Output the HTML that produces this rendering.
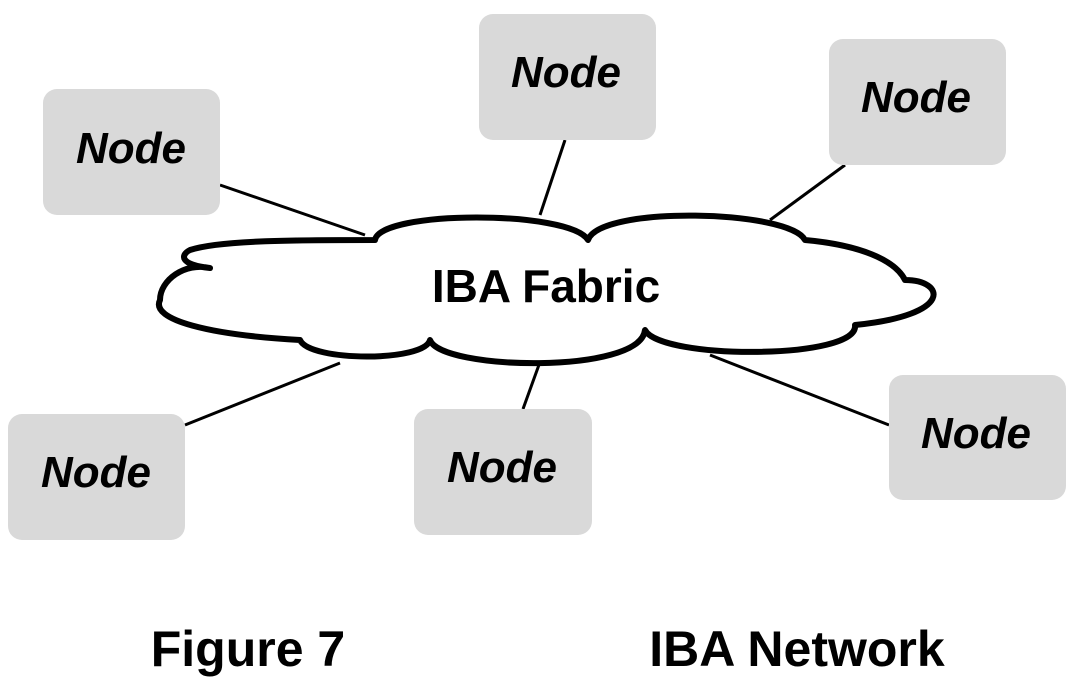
<!DOCTYPE html>
<html><head><style>
body{margin:0;width:1079px;height:679px;background:#fff;overflow:hidden;font-family:"Liberation Sans",Arial,sans-serif}
</style></head><body>
<svg width="1079" height="679" viewBox="0 0 1079 679" xmlns="http://www.w3.org/2000/svg">
<g stroke="#000" stroke-width="3">
<line x1="220" y1="185" x2="365" y2="235"/>
<line x1="565" y1="140" x2="540" y2="215"/>
<line x1="845" y1="165" x2="770" y2="220"/>
<line x1="185" y1="425" x2="340" y2="363"/>
<line x1="540" y1="362" x2="523" y2="409"/>
<line x1="710" y1="355" x2="889" y2="425"/>
</g>
<g fill="#d9d9d9">
<rect x="43" y="89" width="177" height="126" rx="14"/>
<rect x="479" y="14" width="177" height="126" rx="14"/>
<rect x="829" y="39" width="177" height="126" rx="14"/>
<rect x="8" y="414" width="177" height="126" rx="14"/>
<rect x="414" y="409" width="178" height="126" rx="14"/>
<rect x="889" y="375" width="177" height="125" rx="14"/>
</g>
<path d="M375,240 C380,210 570,210 588,240 C600,205 790,210 805,240 C860,245 895,260 905,280 C945,280 955,315 855,325 C860,360 660,360 645,330 C640,375 440,370 430,340 C425,362 310,362 300,340 C210,335 150,320 160,300 C160,280 185,262 210,268 C180,265 180,255 190,250 C220,240 300,240 375,240 Z" fill="#fff" stroke="#000" stroke-width="6" stroke-linejoin="round"/>
<g font-weight="bold" font-style="italic" font-size="44" text-anchor="middle" fill="#000">
<text x="131" y="163">Node</text>
<text x="566" y="87">Node</text>
<text x="916" y="112">Node</text>
<text x="96" y="487">Node</text>
<text x="502" y="482">Node</text>
<text x="976" y="448">Node</text>
</g>
<text x="546" y="302" font-weight="bold" font-size="46" text-anchor="middle">IBA Fabric</text>
<text x="248" y="666" font-weight="bold" font-size="50" text-anchor="middle">Figure 7</text>
<text x="797" y="666" font-weight="bold" font-size="50" text-anchor="middle">IBA Network</text>
</svg>
</body></html>
